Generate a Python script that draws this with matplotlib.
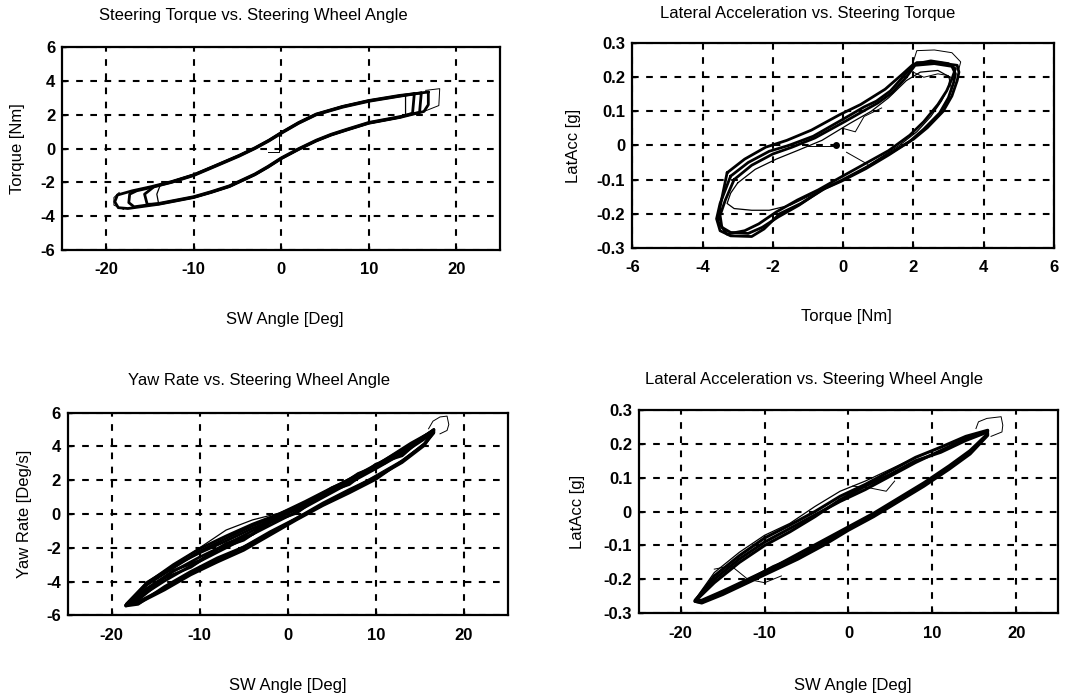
import matplotlib
matplotlib.use("Agg")
import matplotlib.pyplot as plt

plt.rcParams["font.family"] = ["Liberation Sans", "DejaVu Sans"]

# ---------------- tick values / labels ----------------
angle_ticks = [-20, -10, 0, 10, 20]
angle_ticklabels = ["-20", "-10", "0", "10", "20"]
torque_ticks = [-6, -4, -2, 0, 2, 4, 6]
torque_ticklabels = ["-6", "-4", "-2", "0", "2", "4", "6"]
yaw_ticks = [-6, -4, -2, 0, 2, 4, 6]
yaw_ticklabels = ["-6", "-4", "-2", "0", "2", "4", "6"]
latacc_ticks = [-0.3, -0.2, -0.1, 0.0, 0.1, 0.2, 0.3]
latacc_ticklabels = ["-0.3", "-0.2", "-0.1", "0", "0.1", "0.2", "0.3"]

# ---------------- Steering torque vs. steering wheel angle ----------------
# each run: upper branch right->left, reversal, lower branch left->right, reversal
tq_sw_angle_runs = [
    [16.8, 13.5, 10, 7, 4, 2, 0, -1.4, -3, -4.8, -7.5, -10, -12.5, -14.8, -17, -18.7, -19.0, -18.6,
     -17.5, -14, -10, -8, -5.9, -3, -1.5, 0, 2, 4, 5.7, 7.5, 10, 13.6, 16.3, 16.8, 16.8],
    [16.0, 13.5, 10, 7, 4, 2, 0, -1.4, -3, -4.8, -7.5, -10, -12.5, -14.8, -16.5, -17.3, -17.4, -16.8,
     -14, -10, -8, -5.9, -3, -1.5, 0, 2, 4, 5.7, 7.5, 10, 13.6, 15.8, 16.0],
    [15.2, 13.5, 10, 7, 4, 2, 0, -1.4, -3, -4.8, -7.5, -10, -12.5, -14.5, -15.6, -15.3,
     -14, -10, -8, -5.9, -3, -1.5, 0, 2, 4, 5.7, 7.5, 10, 13.6, 15.0, 15.2],
    [14.2, 13.5, 10, 7, 4, 2, 0, -1.4, -3, -4.8, -7.5, -10, -12.5, -13.8, -14.2,
     -14, -10, -8, -5.9, -3, -1.5, 0, 2, 4, 5.7, 7.5, 10, 13.6, 14.2, 14.2],
]
tq_sw_torque_runs = [
    [3.35, 3.15, 2.85, 2.5, 2.05, 1.55, 0.95, 0.5, 0.05, -0.4, -1.0, -1.55, -1.95, -2.25, -2.5, -2.75, -3.15, -3.5,
     -3.55, -3.3, -2.9, -2.6, -2.25, -1.55, -1.1, -0.6, -0.05, 0.45, 0.8, 1.1, 1.5, 1.85, 2.2, 2.6, 3.35],
    [3.3, 3.1, 2.8, 2.45, 2.0, 1.5, 0.9, 0.45, 0.0, -0.45, -1.05, -1.6, -2.0, -2.3, -2.5, -2.7, -3.2, -3.45,
     -3.25, -2.85, -2.55, -2.2, -1.5, -1.05, -0.55, 0.0, 0.5, 0.85, 1.15, 1.55, 1.9, 2.15, 3.3],
    [3.25, 3.12, 2.83, 2.48, 2.02, 1.52, 0.93, 0.48, 0.02, -0.42, -1.02, -1.57, -1.98, -2.25, -2.7, -3.3,
     -3.28, -2.88, -2.58, -2.23, -1.53, -1.08, -0.58, -0.03, 0.47, 0.82, 1.12, 1.52, 1.87, 2.1, 3.25],
    [3.2, 3.14, 2.86, 2.52, 2.07, 1.57, 0.97, 0.52, 0.07, -0.38, -0.98, -1.52, -1.93, -2.15, -2.7,
     -3.25, -2.92, -2.62, -2.27, -1.57, -1.12, -0.62, -0.07, 0.43, 0.78, 1.08, 1.48, 1.83, 2.0, 3.2],
]
tq_sw_trace_angle = [[16.3, 18.0, 18.1, 16.5], [-18.0, -19.1, -19.1, -18.5], [-1.5, -0.3, -0.3]]
tq_sw_trace_torque = [[2.2, 2.55, 3.55, 3.45], [-3.6, -3.35, -2.9, -2.6], [-0.2, -0.2, 1.0]]

# ---------------- Lateral acceleration vs. steering torque ----------------
la_tq_torque_runs = [
    [-3.2, -2.7, -2.1, -1.55, -0.85, 0.0, 0.6, 0.95, 1.35, 1.8, 2.1, 2.7, 3.25, 3.3, 3.25, 3.1,
     2.85, 2.4, 2.0, 1.35, 0.7, 0.0, -0.5, -1.2, -1.8, -2.25, -2.6, -3.2, -3.5, -3.6, -3.5, -3.2],
    [-3.1, -2.6, -2.0, -1.45, -0.8, 0.05, 0.65, 1.0, 1.4, 1.8, 2.05, 2.6, 3.1, 3.2, 3.15, 3.0,
     2.75, 2.3, 1.9, 1.3, 0.65, -0.05, -0.6, -1.25, -1.85, -2.3, -2.7, -3.2, -3.45, -3.5, -3.35, -3.1],
    [-3.3, -2.8, -2.2, -1.6, -0.9, -0.1, 0.5, 1.2, 1.7, 2.0, 2.5, 3.0, 3.2, 3.1, 2.95,
     2.7, 2.3, 1.9, 1.3, 0.6, -0.1, -0.7, -1.3, -1.9, -2.4, -2.8, -3.3, -3.55, -3.5, -3.3],
    [-3.0, -2.5, -1.9, -1.3, -0.6, 0.2, 0.8, 1.3, 1.8, 2.2, 2.7, 3.05, 3.0, 2.8,
     2.5, 2.1, 1.6, 1.0, 0.4, -0.3, -0.9, -1.5, -2.1, -2.6, -3.1, -3.3, -3.2, -3.0],
]
la_tq_latacc_runs = [
    [-0.09, -0.05, -0.017, 0.0, 0.027, 0.077, 0.113, 0.13, 0.16, 0.212, 0.243, 0.243, 0.235, 0.215, 0.19, 0.145,
     0.1, 0.052, 0.018, -0.022, -0.062, -0.1, -0.125, -0.17, -0.2, -0.245, -0.267, -0.265, -0.25, -0.215, -0.17, -0.09],
    [-0.1, -0.058, -0.025, -0.005, 0.022, 0.07, 0.105, 0.125, 0.155, 0.2, 0.235, 0.24, 0.232, 0.21, 0.185, 0.14,
     0.095, 0.048, 0.012, -0.028, -0.068, -0.105, -0.13, -0.175, -0.21, -0.24, -0.258, -0.255, -0.24, -0.205, -0.16, -0.1],
    [-0.08, -0.04, -0.005, 0.015, 0.045, 0.09, 0.12, 0.165, 0.21, 0.238, 0.248, 0.24, 0.225, 0.195, 0.16,
     0.12, 0.07, 0.03, -0.015, -0.055, -0.095, -0.13, -0.16, -0.195, -0.23, -0.25, -0.26, -0.225, -0.18, -0.08],
    [-0.11, -0.07, -0.04, -0.015, 0.015, 0.065, 0.1, 0.14, 0.19, 0.215, 0.22, 0.2, 0.17, 0.13,
     0.085, 0.04, 0.0, -0.04, -0.08, -0.115, -0.145, -0.175, -0.19, -0.19, -0.185, -0.17, -0.14, -0.11],
]
la_tq_trace_torque = [[2.0, 2.1, 2.6, 3.1, 3.35, 3.3], [-1.0, -0.25], [0.1, 0.7],
                      [2.0, 2.3, 2.7, 3.0, 3.1], [0.0, 0.35, 0.6, 1.1]]
la_tq_trace_latacc = [[0.245, 0.278, 0.28, 0.272, 0.245, 0.225], [-0.002, -0.002], [-0.02, -0.055],
                      [0.215, 0.2, 0.21, 0.205, 0.16], [0.05, 0.04, 0.085, 0.11]]
la_tq_start = (-0.2, 0.0)

# ---------------- Yaw rate vs. steering wheel angle ----------------
yaw_sw_angle_runs = [
    [16.6, 14, 11, 8, 5, 2, -1, -4, -7, -10, -13, -16, -18.4,
     -17, -14, -11, -8, -5, -2, 1, 4, 7, 10, 13, 15.5, 16.6],
] * 6
yaw_sw_rate_runs = [
    [5.0, 4.1, 3.1, 2.3, 1.55, 0.75, 0.0, -0.6, -1.3, -2.05, -3.0, -4.1, -5.4,
     -5.3, -4.5, -3.6, -2.85, -2.15, -1.25, -0.35, 0.5, 1.25, 2.05, 3.15, 4.1, 4.8],
    [5.0, 4.0, 3.0, 2.4, 1.35, 0.5, -0.2, -0.85, -1.6, -2.3, -3.1, -4.1, -5.45,
     -5.35, -4.3, -3.4, -2.6, -1.95, -1.05, -0.25, 0.65, 1.45, 2.2, 3.1, 4.15, 4.85],
    [4.95, 4.2, 3.2, 2.2, 1.45, 0.6, -0.1, -0.7, -1.45, -2.2, -3.2, -4.2, -5.4,
     -5.2, -4.4, -3.5, -2.75, -2.0, -1.15, -0.3, 0.55, 1.35, 2.15, 3.05, 4.05, 4.9],
    [4.95, 4.1, 3.2, 2.35, 1.5, 0.65, -0.2, -1.0, -1.8, -2.55, -3.4, -4.4, -5.4,
     -4.97, -3.97, -3.07, -2.27, -1.47, -0.67, 0.13, 0.98, 1.83, 2.68, 3.58, 4.43, 4.83],
    [5.0, 4.0, 3.15, 2.2, 1.55, 0.55, -0.1, -1.2, -1.75, -2.75, -3.35, -4.5, -5.45,
     -5.1, -3.8, -3.15, -2.1, -1.55, -0.5, 0.05, 1.2, 1.75, 2.95, 3.45, 4.6, 4.9],
    [4.9, 3.95, 3.05, 2.25, 1.5, 0.7, 0.05, -0.35, -0.95, -2.0, -3.05, -4.0, -5.3,
     -5.25, -4.35, -3.45, -2.7, -1.9, -1.1, -0.2, 0.6, 1.4, 2.3, 3.2, 4.2, 4.9],
]
yaw_sw_trace_angle = [[16.0, 16.5, 17.3, 18.1, 18.3, 18.1, 17.3]]
yaw_sw_trace_rate = [[5.05, 5.5, 5.75, 5.8, 5.3, 4.95, 4.75]]

# ---------------- Lateral acceleration vs. steering wheel angle ----------------
la_sw_angle_runs = [
    [16.6, 14, 11, 8, 5, 2, -1, -4, -7, -10, -13, -16, -18.3,
     -17.5, -15, -12, -9, -6, -3, 0, 3, 6, 9, 12, 14.5, 16.6],
] * 4
la_sw_latacc_runs = [
    [0.24, 0.222, 0.19, 0.16, 0.12, 0.08, 0.045, 0.0, -0.04, -0.078, -0.13, -0.19, -0.265,
     -0.27, -0.245, -0.21, -0.175, -0.14, -0.1, -0.055, -0.015, 0.03, 0.075, 0.125, 0.17, 0.225],
    [0.238, 0.215, 0.18, 0.145, 0.105, 0.065, 0.03, -0.01, -0.05, -0.09, -0.14, -0.2, -0.262,
     -0.262, -0.235, -0.2, -0.165, -0.125, -0.085, -0.045, -0.005, 0.04, 0.085, 0.135, 0.18, 0.23],
    [0.235, 0.21, 0.175, 0.15, 0.11, 0.075, 0.035, -0.015, -0.06, -0.1, -0.15, -0.21, -0.265,
     -0.268, -0.24, -0.205, -0.17, -0.135, -0.09, -0.05, -0.01, 0.035, 0.08, 0.13, 0.175, 0.228],
    [0.24, 0.22, 0.19, 0.16, 0.125, 0.09, 0.06, 0.015, -0.035, -0.07, -0.12, -0.18, -0.26,
     -0.265, -0.24, -0.2, -0.16, -0.13, -0.095, -0.05, -0.01, 0.03, 0.08, 0.13, 0.175, 0.232],
]
la_sw_trace_angle = [[15.2, 15.5, 16.5, 18.2, 18.4, 18.3, 17.0],
                     [0.5, 2.5, 4.5, 5.5], [-16, -14, -12, -10, -8]]
la_sw_trace_latacc = [[0.245, 0.265, 0.275, 0.28, 0.255, 0.235, 0.222],
                      [0.075, 0.07, 0.06, 0.09], [-0.17, -0.16, -0.2, -0.21, -0.19]]

# ---------------- figure ----------------
fig = plt.figure(figsize=(10.92, 6.96), dpi=100)

panels = [
    dict(rect=[0.057, 0.641, 0.401, 0.291],
         title="Steering Torque vs. Steering Wheel Angle", tx=0.436, ty=1.158,
         xlabel="SW Angle [Deg]", lx=0.509, ly=-0.345,
         ylabel="Torque [Nm]", yx=-0.103,
         xlim=(-25, 25), ylim=(-6, 6),
         xt=angle_ticks, xtl=angle_ticklabels, yt=torque_ticks, ytl=torque_ticklabels,
         runs=(tq_sw_angle_runs, tq_sw_torque_runs),
         traces=(tq_sw_trace_angle, tq_sw_trace_torque), lw=2.0, thin=[3]),
    dict(rect=[0.579, 0.644, 0.386, 0.294],
         title="Lateral Acceleration vs. Steering Torque", tx=0.417, ty=1.146,
         xlabel="Torque [Nm]", lx=0.509, ly=-0.337,
         ylabel="LatAcc [g]", yx=-0.140,
         xlim=(-6, 6), ylim=(-0.3, 0.3),
         xt=torque_ticks, xtl=torque_ticklabels, yt=latacc_ticks, ytl=latacc_ticklabels,
         runs=(la_tq_torque_runs, la_tq_latacc_runs),
         traces=(la_tq_trace_torque, la_tq_trace_latacc), lw=2.0, thin=[3]),
    dict(rect=[0.062, 0.116, 0.403, 0.291],
         title="Yaw Rate vs. Steering Wheel Angle", tx=0.434, ty=1.158,
         xlabel="SW Angle [Deg]", lx=0.5, ly=-0.347,
         ylabel="Yaw Rate [Deg/s]", yx=-0.098,
         xlim=(-25, 25), ylim=(-6, 6),
         xt=angle_ticks, xtl=angle_ticklabels, yt=yaw_ticks, ytl=yaw_ticklabels,
         runs=(yaw_sw_angle_runs, yaw_sw_rate_runs),
         traces=(yaw_sw_trace_angle, yaw_sw_trace_rate), lw=2.0, thin=[5]),
    dict(rect=[0.585, 0.119, 0.384, 0.292],
         title="Lateral Acceleration vs. Steering Wheel Angle", tx=0.418, ty=1.148,
         xlabel="SW Angle [Deg]", lx=0.511, ly=-0.355,
         ylabel="LatAcc [g]", yx=-0.146,
         xlim=(-25, 25), ylim=(-0.3, 0.3),
         xt=angle_ticks, xtl=angle_ticklabels, yt=latacc_ticks, ytl=latacc_ticklabels,
         runs=(la_sw_angle_runs, la_sw_latacc_runs),
         traces=(la_sw_trace_angle, la_sw_trace_latacc), lw=2.2, thin=[3]),
]

for i, p in enumerate(panels):
    ax = fig.add_axes(p["rect"])
    ax.set_xlim(*p["xlim"])
    ax.set_ylim(*p["ylim"])
    ax.set_axisbelow(True)
    ax.grid(True, color="black", linestyle=(0, (3.2, 3.6)), linewidth=1.5)

    xs_runs, ys_runs = p["runs"]
    for j, (xs, ys) in enumerate(zip(xs_runs, ys_runs)):
        lw = 0.9 if j in p["thin"] else p["lw"]
        ax.plot(xs, ys, color="black", linewidth=lw,
                solid_joinstyle="round", solid_capstyle="round")
    for xs, ys in zip(*p["traces"]):
        ax.plot(xs, ys, color="black", linewidth=0.7)
    if i == 1:
        ax.plot([la_tq_start[0]], [la_tq_start[1]], marker="o", color="black", markersize=4)

    ax.set_xticks(p["xt"])
    ax.set_xticklabels(p["xtl"])
    ax.set_yticks(p["yt"])
    ax.set_yticklabels(p["ytl"])
    ax.tick_params(axis="both", direction="in", length=3, width=1, labelsize=12)
    ax.tick_params(axis="x", pad=9)
    ax.tick_params(axis="y", pad=5)
    for lab in ax.get_xticklabels() + ax.get_yticklabels():
        lab.set_fontweight("bold")
    for s in ax.spines.values():
        s.set_linewidth(1.6)

    ax.set_title(p["title"], x=p["tx"], y=p["ty"], va="center", fontsize=12, pad=0)
    ax.set_xlabel(p["xlabel"], fontsize=12, va="center")
    ax.xaxis.set_label_coords(p["lx"], p["ly"])
    ax.set_ylabel(p["ylabel"], fontsize=12, va="center")
    ax.yaxis.set_label_coords(p["yx"], 0.5)

fig.savefig("out.png", dpi=100, facecolor="white")
